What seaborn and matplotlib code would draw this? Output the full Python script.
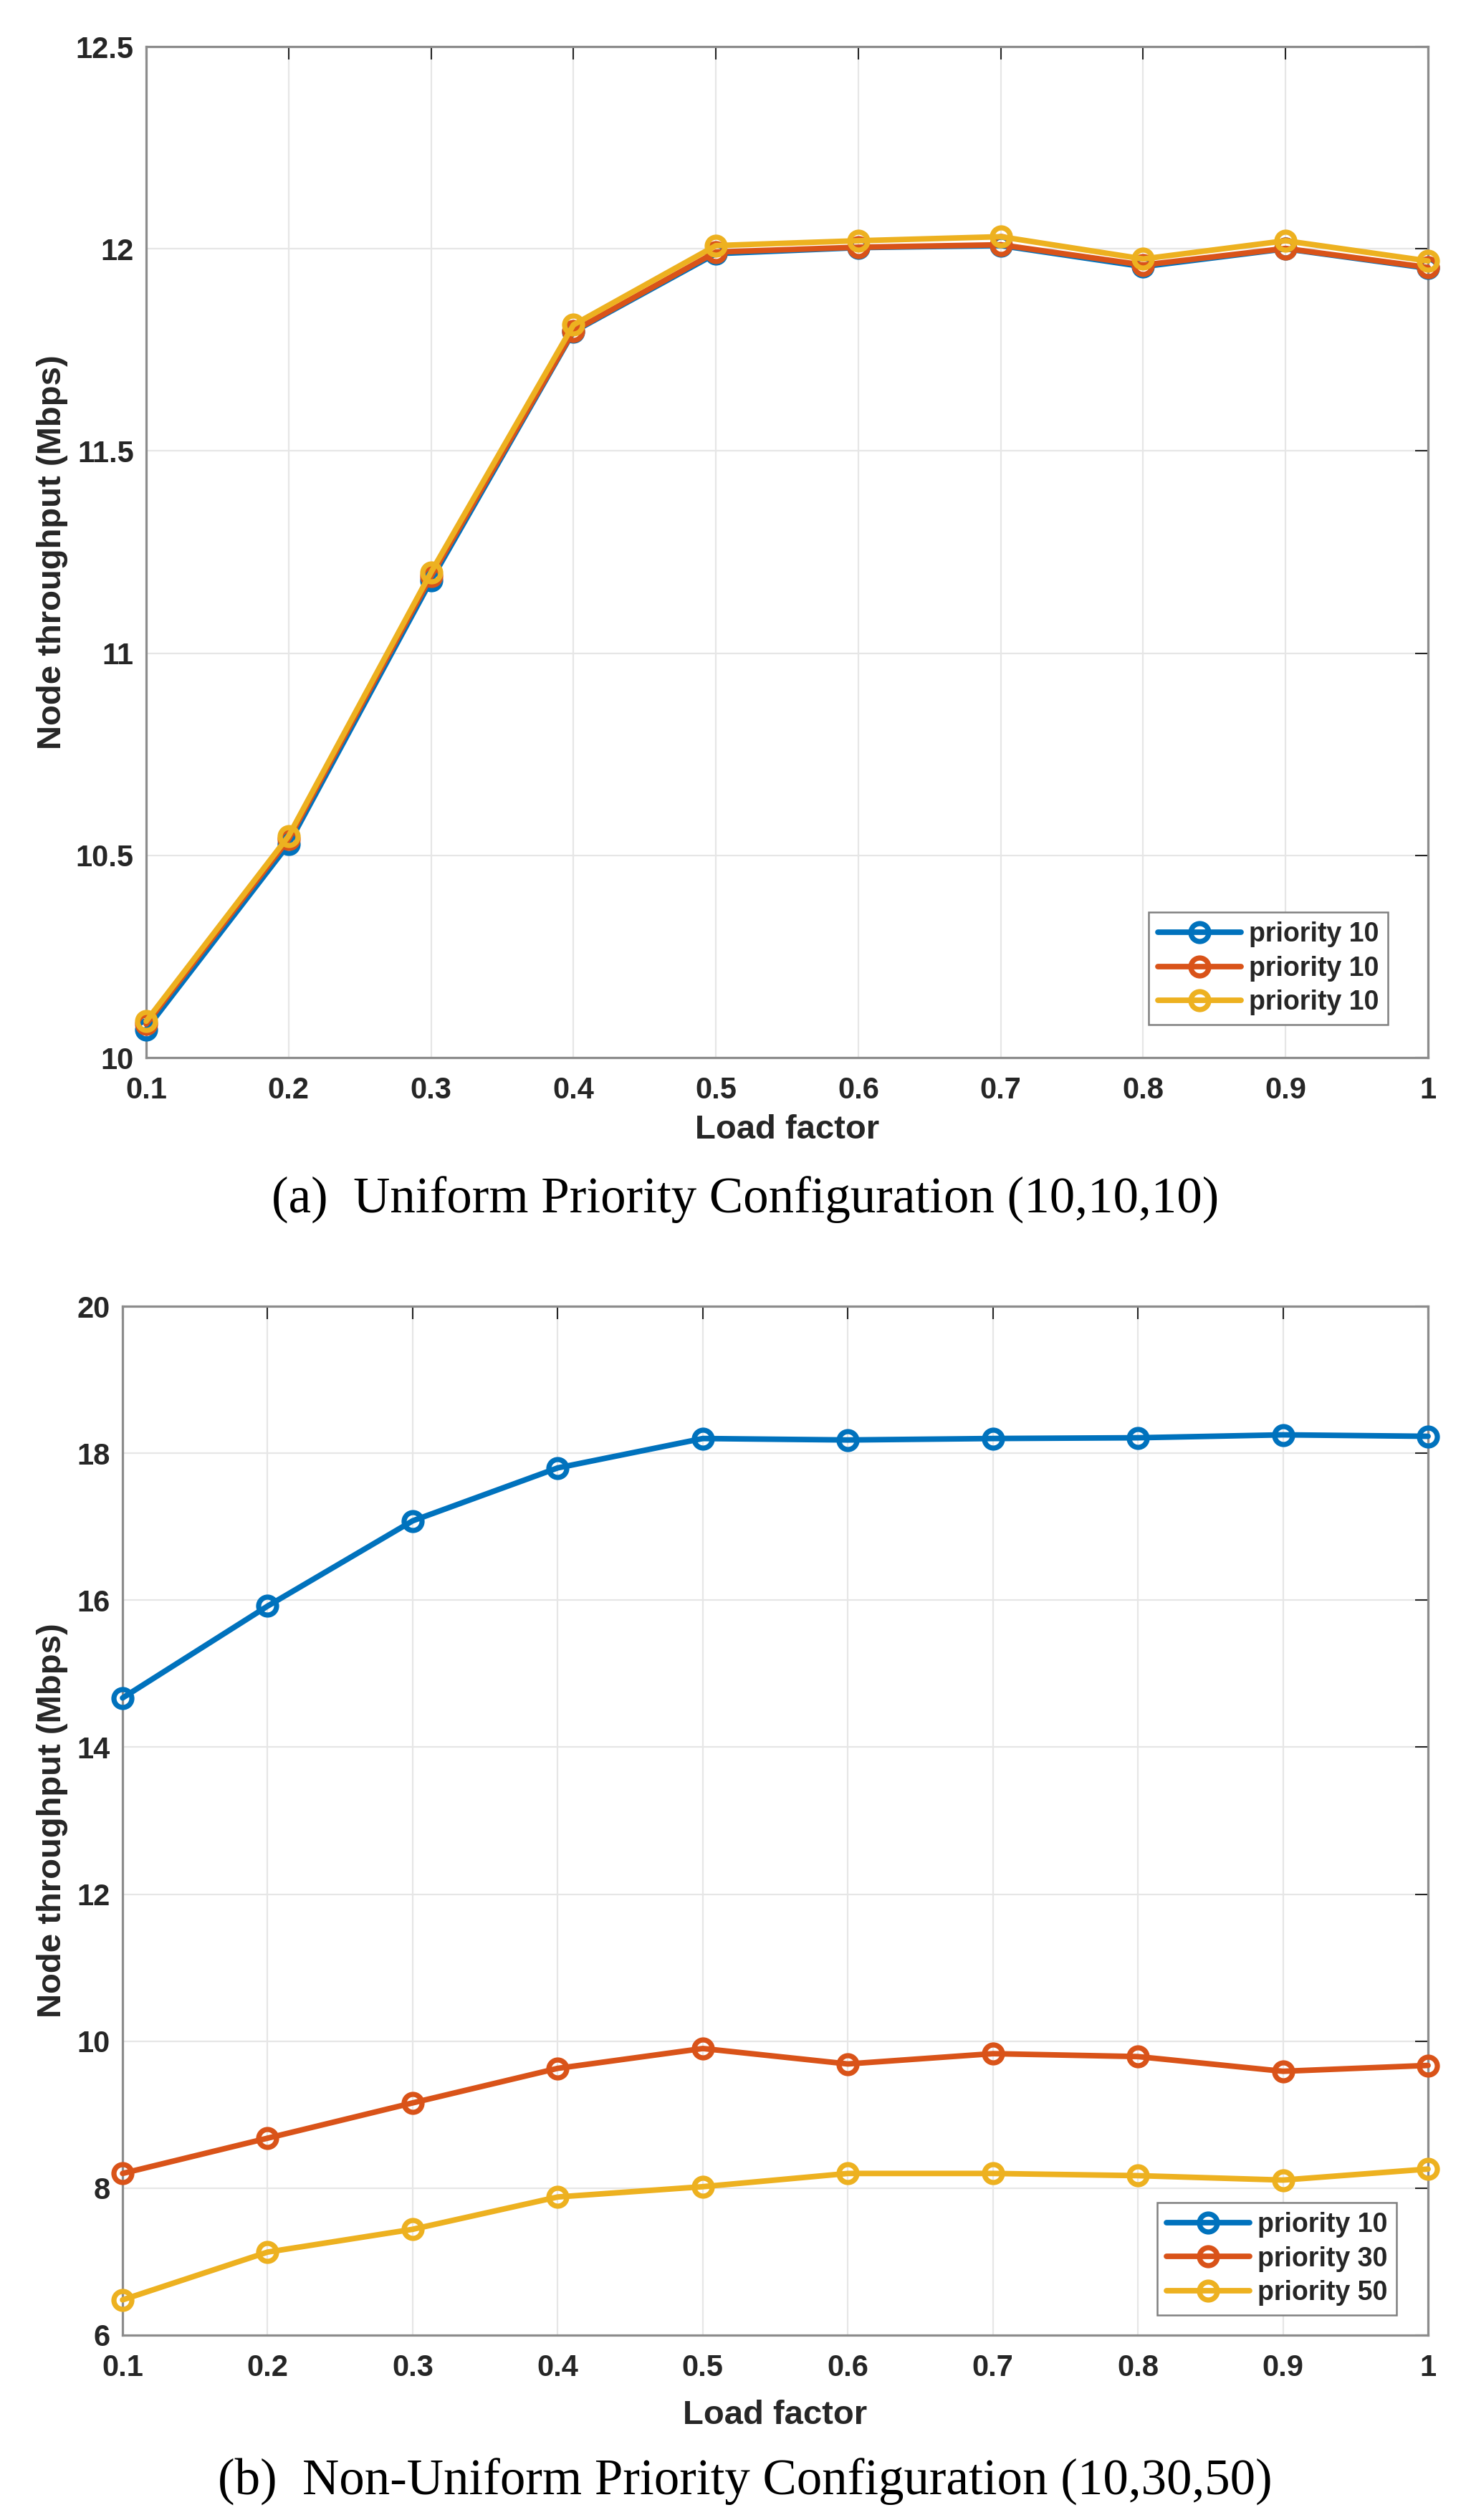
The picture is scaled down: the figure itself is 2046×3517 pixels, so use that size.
import pandas as pd
import seaborn as sns
import matplotlib.pyplot as plt

# load factor on the x axis
load_factor = [0.1, 0.2, 0.3, 0.4, 0.5, 0.6, 0.7, 0.8, 0.9, 1.0]
x_tick_labels = ["0.1", "0.2", "0.3", "0.4", "0.5", "0.6", "0.7", "0.8", "0.9", "1"]

# (a) uniform priorities (10,10,10)
uniform_a = [10.070, 10.528, 11.180, 11.795, 11.988, 12.003, 12.008, 11.956, 12.000, 11.952]
uniform_b = [10.083, 10.540, 11.190, 11.797, 11.992, 12.004, 12.010, 11.960, 12.001, 11.954]
uniform_c = [10.090, 10.548, 11.200, 11.812, 12.008, 12.020, 12.030, 11.975, 12.020, 11.970]
uniform_labels = ["priority 10", "priority 10", "priority 10"]
uniform_yticks = [10, 10.5, 11, 11.5, 12, 12.5]
uniform_ytick_labels = ["10", "10.5", "11", "11.5", "12", "12.5"]

# (b) non-uniform priorities (10,30,50)
nonuni_p10 = [14.67, 15.92, 17.08, 17.80, 18.20, 18.18, 18.20, 18.21, 18.25, 18.23]
nonuni_p30 = [8.20, 8.68, 9.16, 9.63, 9.90, 9.69, 9.83, 9.79, 9.59, 9.67]
nonuni_p50 = [6.48, 7.13, 7.44, 7.88, 8.02, 8.20, 8.20, 8.17, 8.11, 8.26]
nonuni_labels = ["priority 10", "priority 30", "priority 50"]
nonuni_yticks = [6, 8, 10, 12, 14, 16, 18, 20]
nonuni_ytick_labels = ["6", "8", "10", "12", "14", "16", "18", "20"]

colors = ["#0072BD", "#D95319", "#EDB120"]

sns.set_style("white")
plt.rcParams['font.family'] = ['Liberation Sans', 'DejaVu Sans']
plt.rcParams['font.weight'] = 'bold'
plt.rcParams['text.color'] = '#262626'
plt.rcParams['axes.labelcolor'] = '#262626'

fig = plt.figure(figsize=(20.46, 35.17), dpi=100)
ax_a = fig.add_axes([0.0997, 0.5803, 0.8744, 0.4012])
ax_b = fig.add_axes([0.0836, 0.07336, 0.8905, 0.4083])


def draw_panel(ax, series, labels, yticks, ytick_labels, ylabel_x, xlabel_y, leg_anchor):
    for vals, lab, col in zip(series, labels, colors):
        df = pd.DataFrame({"load": load_factor, "thr": vals})
        sns.lineplot(data=df, x="load", y="thr", ax=ax, color=col, label=lab,
                     linewidth=5.6, marker="o", markersize=18,
                     markerfacecolor="none", markeredgecolor=col,
                     markeredgewidth=5.2, clip_on=False, zorder=3)
    ax.set_xlim(0.1, 1.0)
    ax.set_ylim(yticks[0], yticks[-1])
    ax.set_xticks(load_factor, x_tick_labels)
    ax.set_yticks(yticks, ytick_labels)
    ax.grid(True, color="#e6e6e6", linewidth=1.6)
    ax.set_axisbelow(True)
    for sp in ax.spines.values():
        sp.set_color("#8c8c8c")
        sp.set_linewidth(2.3)
    ax.tick_params(axis="both", direction="in", length=13, width=1.5,
                   color="#262626", labelsize=30, top=True, right=True,
                   labelcolor="#262626")
    ax.tick_params(axis="x", pad=18.5)
    ax.tick_params(axis="y", pad=12.5)
    ax.set_xlabel("Load factor", fontsize=34, fontweight="bold")
    ax.set_ylabel("Node throughput (Mbps)", fontsize=34, fontweight="bold")
    ax.xaxis.set_label_coords(0.5, xlabel_y)
    ax.yaxis.set_label_coords(ylabel_x, 0.5)
    leg = ax.legend(loc="lower right", bbox_to_anchor=leg_anchor, borderaxespad=0,
                    frameon=True, fancybox=False, framealpha=1,
                    handlelength=3.1, handletextpad=0.28, labelspacing=0.3,
                    borderpad=0.35, prop={"weight": "bold", "size": 27})
    leg.get_frame().set_edgecolor("#808080")
    leg.get_frame().set_linewidth(1.8)


draw_panel(ax_a, [uniform_a, uniform_b, uniform_c], uniform_labels,
           uniform_yticks, uniform_ytick_labels, -0.061, -0.056, (0.9687, 0.0326))
draw_panel(ax_b, [nonuni_p10, nonuni_p30, nonuni_p50], nonuni_labels,
           nonuni_yticks, nonuni_ytick_labels, -0.0417, -0.0627, (0.9759, 0.0195))

caption_font = ['Liberation Serif', 'DejaVu Serif']
fig.text(0.5083, 1 - 1693 / 3517, "(a)  Uniform Priority Configuration (10,10,10)",
         ha="center", va="baseline", fontsize=51, family=caption_font,
         fontweight="normal", color="black")
fig.text(0.5083, 1 - 3482 / 3517, "(b)  Non-Uniform Priority Configuration (10,30,50)",
         ha="center", va="baseline", fontsize=51, family=caption_font,
         fontweight="normal", color="black")

fig.savefig("out.png", dpi=100, facecolor="white")
